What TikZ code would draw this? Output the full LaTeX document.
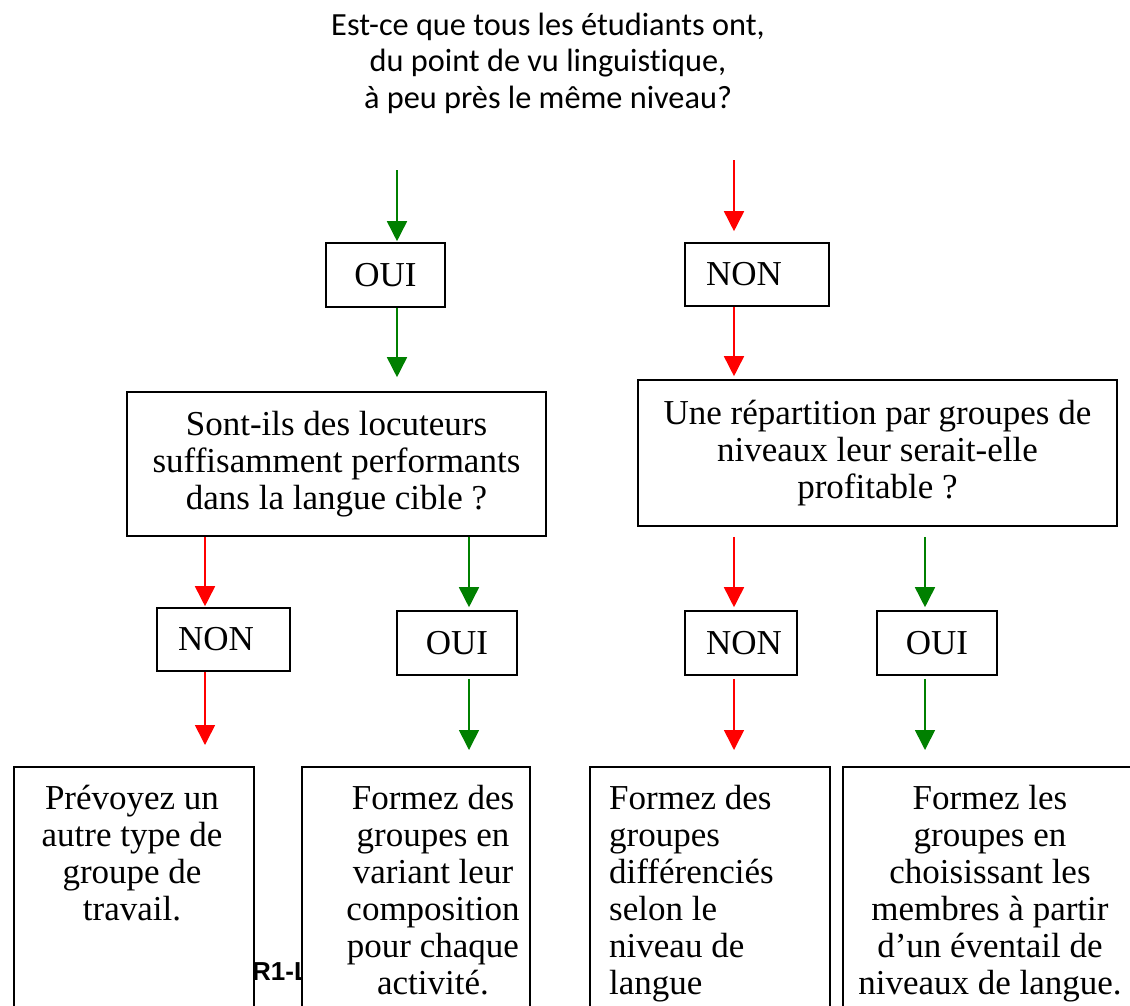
\documentclass[tikz,border=0pt]{standalone}
\usepackage{fontspec}
\setmainfont{Liberation Serif}
\newfontfamily\titlefont[Ligatures=NoCommon]{Carlito}
\newfontfamily\tagfont{Liberation Sans}
\usetikzlibrary{arrows.meta,positioning}
\definecolor{ouigreen}{RGB}{0,128,0}
\definecolor{nonred}{RGB}{255,0,0}
\tikzset{
  question/.style={align=center, inner sep=0pt, font=\titlefont\fontsize{32.3}{36.5}\selectfont},
  box/.style={draw, line width=1.6pt, inner sep=0pt, fill=white, font=\fontsize{35}{37}\selectfont},
  ouibox/.style={box, minimum height=64pt},
  nonbox/.style={box, inner xsep=21pt, align=left, minimum height=63pt},
  finbox/.style={box, anchor=north west, minimum height=250pt},
  fintext/.style={inner sep=0pt, font=\fontsize{35}{37}\selectfont},
  tag/.style={inner sep=0pt, font=\tagfont\bfseries\fontsize{26}{28}\selectfont}
}
\begin{document}
\begin{tikzpicture}[x=1pt,y=-1pt]
      \useasboundingbox (0,0) rectangle (1130,1005);
      \node[question] (titre) at (548,63)
        {Est-ce que tous les étudiants ont,\\du point de vu linguistique,\\à peu près le même niveau?};
      \draw
        (385.5,275) node[ouibox, minimum width=119pt] (oui){OUI}
        (757,274.5) node[nonbox, text width=102pt] (non){NON}
        (336.5,464) node[box, text width=419pt, align=flush center, minimum height=144pt] (q1)
          {Sont-ils des locuteurs\\suffisamment performants\\dans la langue cible ?}
        (877.5,453) node[box, text width=479pt, align=flush center, minimum height=146pt] (q2)
          {Une répartition par groupes de\\niveaux leur serait-elle\\profitable ?}
        (223.5,639.5) node[nonbox, text width=91pt] (nonA){NON}
        (457,643) node[ouibox, minimum width=120pt] (ouiA){OUI}
        (741,643) node[nonbox, text width=70pt, minimum height=64pt] (nonB){NON}
        (937,643) node[ouibox, minimum width=120pt] (ouiB){OUI};
      \node[tag, anchor=base west] (ref) at (252,980) {R1-L};
      \node[finbox, minimum width=240pt] (finA) at (13,766) {};
      \node[finbox, minimum width=228pt] (finB) at (301,766) {};
      \node[finbox, minimum width=240pt] (finC) at (589,766) {};
      \node[finbox, minimum width=298pt] (finD) at (842,766) {};
      \node[fintext, anchor=north, align=flush center] (txtA) at (132,785)
        {Prévoyez un\\autre type de\\groupe de\\travail.};
      \node[fintext, anchor=north, align=flush center] (txtB) at (433,785)
        {Formez des\\groupes en\\variant leur\\composition\\pour chaque\\activité.};
      \node[fintext, anchor=north west, align=flush left] (txtC) at (609,785)
        {Formez des\\groupes\\différenciés\\selon le\\niveau de\\langue};
      \node[fintext, anchor=north, align=flush center] (txtD) at (990,785)
        {Formez les\\groupes en\\choisissant les\\membres à partir\\d’un éventail de\\niveaux de langue.};
      \coordinate (depOui) at (397,170);
      \coordinate (depNon) at (734,160);
      \coordinate (colA) at (205,0);
      \coordinate (colB) at (469,0);
      \coordinate (colC) at (734,0);
      \coordinate (colD) at (925,0);
      \begin{scope}[line width=1.6pt, -{Triangle[width=20pt,length=20pt]}]
        \draw[ouigreen, shorten >=1pt] (depOui) to (oui.north -| depOui);
        \draw[ouigreen, shorten >=14pt] (oui.south -| depOui) to (q1.north -| depOui);
        \draw[nonred, shorten >=11pt] (depNon) to (non.north -| depNon);
        \draw[nonred, shorten >=3pt] (non.south -| depNon) to (q2.north -| depNon);
        \draw[nonred, shorten >=1pt] (q1.south -| colA) to (nonA.north -| colA);
        \draw[ouigreen, shorten >=3pt] (q1.south -| colB) to (ouiA.north -| colB);
        \draw[nonred, shorten <=10pt, shorten >=3pt] (q2.south -| colC) to (nonB.north -| colC);
        \draw[ouigreen, shorten <=10pt, shorten >=3pt] (q2.south -| colD) to (ouiB.north -| colD);
        \draw[nonred, shorten >=21pt] (nonA.south -| colA) to (finA.north -| colA);
        \draw[ouigreen, shorten <=3pt, shorten >=16pt] (ouiA.south -| colB) to (finB.north -| colB);
        \draw[nonred, shorten <=3pt, shorten >=16pt] (nonB.south -| colC) to (finC.north -| colC);
        \draw[ouigreen, shorten <=3pt, shorten >=16pt] (ouiB.south -| colD) to (finD.north -| colD);
      \end{scope}
    \end{tikzpicture}
\end{document}
